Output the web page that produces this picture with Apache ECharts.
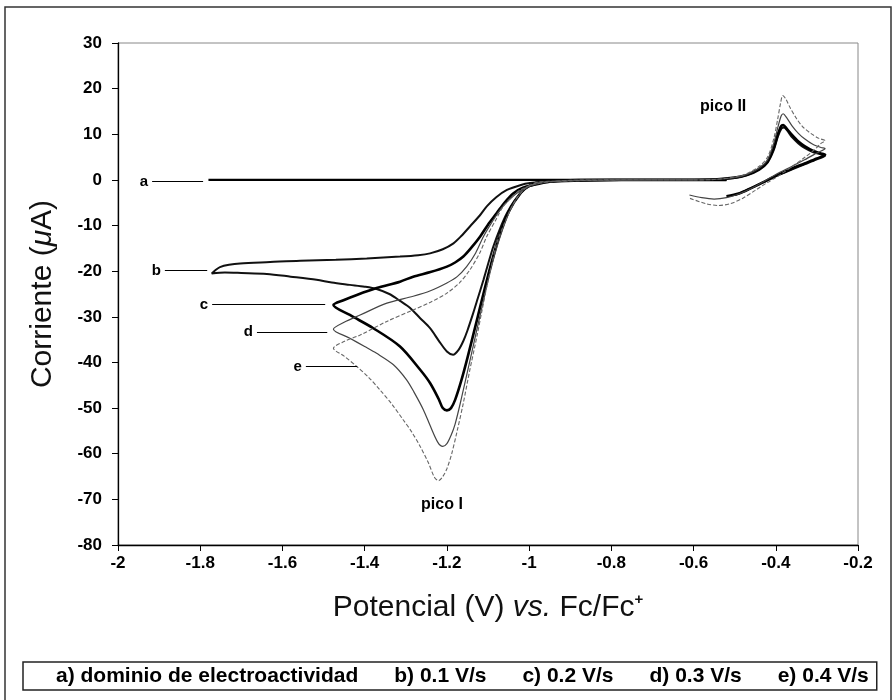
<!DOCTYPE html>
<html>
<head>
<meta charset="utf-8">
<script src="https://cdn.jsdelivr.net/npm/echarts@6/dist/echarts.min.js"></script>
<style>
  html, body { margin: 0; padding: 0; background: #fff; }
  #chart { width: 893px; height: 700px; }
</style>
</head>
<body>
<div id="chart"></div>
<script>
// ---------- DATA ----------
const legendNames = ['a) dominio de electroactividad', 'b) 0.1 V/s', 'c) 0.2 V/s', 'd) 0.3 V/s', 'e) 0.4 V/s'];
const xTicks = [-2, -1.8, -1.6, -1.4, -1.2, -1, -0.8, -0.6, -0.4, -0.2];
const yTicks = [-80, -70, -60, -50, -40, -30, -20, -10, 0, 10, 20, 30];

// a) blank
const E_a = [-1.78, -1.5, -1.2, -1.0, -0.8, -0.6, -0.52];
const I_a = [0, 0, 0, 0, 0, 0, 0.1];

// b) 0.1 V/s
const E_b = [-0.52, -0.7, -0.85, -0.93, -0.97, -1.0, -1.014, -1.035, -1.054, -1.07, -1.087, -1.10, -1.111, -1.125, -1.136, -1.15, -1.16, -1.172, -1.185, -1.20, -1.22, -1.241, -1.265, -1.29, -1.314, -1.34, -1.371, -1.40, -1.436, -1.48, -1.517, -1.58, -1.638, -1.70, -1.74, -1.772,
  -1.762, -1.752, -1.73, -1.703, -1.63, -1.557, -1.47, -1.395, -1.314, -1.27, -1.241, -1.21, -1.184, -1.165, -1.144, -1.12, -1.103, -1.08, -1.054, -1.02, -0.998, -0.95, -0.9, -0.8, -0.6, -0.55, -0.5, -0.47, -0.44, -0.42, -0.405, -0.395, -0.386, -0.38, -0.372, -0.36, -0.345, -0.33, -0.31, -0.29, -0.28,
  -0.30, -0.33, -0.36, -0.40, -0.43, -0.46, -0.49, -0.50];
const I_b = [0, 0, -0.1, -0.3, -0.6, -1.4, -2.2, -4.5, -7.3, -10.5, -14.6, -18.5, -21.9, -26, -29.2, -33, -35.3, -37.3, -38.3, -37.6, -35.2, -32.5, -30.3, -28, -26.5, -25, -23.9, -23.4, -23.0, -22.5, -21.9, -21.2, -20.6, -20.4, -20.3, -20.5,
  -19.7, -19.1, -18.6, -18.3, -18.0, -17.7, -17.5, -17.2, -16.8, -16.5, -16.1, -15.2, -13.9, -12.3, -10.2, -7.8, -5.8, -3.8, -2.2, -1.1, -0.7, -0.3, -0.1, 0, 0, 0.1, 0.4, 1.0, 2.2, 3.8, 6.5, 9.5, 11.3, 11.5, 10.8, 9.3, 8.0, 7.0, 6.1, 5.6, 5.3,
  4.5, 3.4, 2.3, 0.8, -0.5, -1.8, -3.0, -3.3];

// c) 0.2 V/s
const E_c = [-0.52, -0.7, -0.85, -0.93, -0.98, -1.0, -1.02, -1.05, -1.075, -1.10, -1.125, -1.15, -1.165, -1.18, -1.19, -1.20, -1.21, -1.22, -1.241, -1.265, -1.314, -1.379, -1.436, -1.476,
  -1.45, -1.419, -1.371, -1.314, -1.282, -1.24, -1.20, -1.18, -1.16, -1.14, -1.119, -1.10, -1.079, -1.06, -1.038, -1.015, -0.99, -0.95, -0.9, -0.8, -0.6, -0.55, -0.5, -0.47, -0.44, -0.42, -0.405, -0.395, -0.387, -0.382, -0.374, -0.36, -0.345, -0.33, -0.31, -0.29, -0.28,
  -0.30, -0.33, -0.36, -0.40, -0.43, -0.46, -0.49, -0.52];
const I_c = [0, 0, -0.1, -0.3, -0.6, -1.3, -2.8, -7, -13, -21, -30, -39, -44, -48.2, -50, -50.5, -50.0, -48, -44.5, -41.6, -36.5, -32.5, -29.6, -27.4,
  -26.3, -25.2, -23.7, -22.3, -21.2, -20.2, -19.0, -18.1, -16.8, -14.8, -12.4, -9.8, -7.3, -5.0, -2.9, -1.7, -1.1, -0.4, -0.1, 0, 0, 0.1, 0.5, 1.1, 2.4, 4.0, 7, 10, 11.8, 12.0, 11.3, 9.8, 8.4, 7.4, 6.4, 5.8, 5.5,
  4.7, 3.6, 2.5, 0.9, -0.5, -1.8, -3.0, -3.6];

// d) 0.3 V/s
const E_d = [-0.6, -0.7, -0.85, -0.93, -0.975, -0.995, -1.015, -1.04, -1.065, -1.09, -1.115, -1.14, -1.165, -1.18, -1.19, -1.20, -1.21, -1.222, -1.24, -1.257, -1.28, -1.298, -1.33, -1.371, -1.40, -1.436, -1.476,
  -1.45, -1.411, -1.346, -1.282, -1.24, -1.20, -1.175, -1.152, -1.13, -1.111, -1.09, -1.071, -1.05, -1.030, -1.0, -0.96, -0.9, -0.8, -0.6, -0.55, -0.5, -0.47, -0.44, -0.42, -0.405, -0.395, -0.387, -0.382, -0.374, -0.36, -0.345, -0.33, -0.31, -0.29, -0.28,
  -0.30, -0.33, -0.36, -0.40, -0.43, -0.46, -0.49, -0.52, -0.55, -0.58, -0.61];
const I_d = [0, 0, -0.1, -0.3, -0.5, -1.2, -2.3, -5.5, -11, -18.5, -28, -38, -48, -53.5, -56, -57.8, -58.4, -57.5, -54, -50.4, -46.5, -43.8, -40.5, -38.0, -36.5, -34.7, -32.7,
  -31.2, -29.6, -27.0, -25.5, -24.3, -22.6, -21.2, -19.0, -16.0, -12.4, -9.2, -6.6, -4.5, -2.9, -1.4, -0.5, -0.1, 0, 0, 0.1, 0.5, 1.2, 2.6, 4.4, 8, 11.5, 14, 14.5, 13.7, 11.8, 10.2, 9.0, 7.8, 7.1, 6.9,
  5.9, 4.4, 3.0, 1.2, -0.4, -1.9, -3.1, -3.9, -4.2, -3.9, -3.3];

// e) 0.4 V/s
const E_e = [-0.6, -0.7, -0.85, -0.93, -0.973, -0.995, -1.014, -1.03, -1.046, -1.06, -1.079, -1.09, -1.103, -1.115, -1.127, -1.145, -1.16, -1.175, -1.188, -1.20, -1.21, -1.22, -1.23, -1.245, -1.265, -1.285, -1.306, -1.335, -1.363, -1.39, -1.419, -1.45, -1.476,
  -1.45, -1.411, -1.346, -1.282, -1.24, -1.20, -1.17, -1.144, -1.12, -1.103, -1.08, -1.063, -1.04, -1.022, -0.99, -0.95, -0.9, -0.8, -0.6, -0.55, -0.5, -0.47, -0.44, -0.42, -0.405, -0.395, -0.388, -0.383, -0.376, -0.365, -0.35, -0.335, -0.315, -0.295, -0.28,
  -0.29, -0.306, -0.33, -0.372, -0.40, -0.421, -0.45, -0.48, -0.51, -0.54, -0.57, -0.61];
const I_e = [0, 0, -0.1, -0.3, -0.4, -1.0, -2.2, -4, -6.6, -9.5, -13.9, -18.2, -23.4, -28.8, -34.3, -42, -48.9, -55, -59.9, -63.3, -65.0, -65.9, -65.2, -62, -58.4, -55.3, -52.6, -49.0, -46.0, -43.3, -40.9, -38.6, -36.9,
  -35.4, -34.0, -31.0, -28.5, -26.8, -24.8, -22.6, -19.7, -16, -12.4, -8.6, -5.8, -3.6, -2.2, -1.0, -0.4, -0.1, 0, 0, 0.1, 0.6, 1.4, 3.0, 5.0, 9, 13.5, 17, 18.5, 17.8, 15.8, 13.5, 11.7, 10.2, 9.1, 8.6,
  8.0, 6.6, 4.9, 2.2, 0.5, -0.6, -2.3, -4.0, -5.2, -5.6, -5.2, -4.0];

// curve tags with leader lines (data coordinates)
const tagText = ['a', 'b', 'c', 'd', 'e'];
const tagStartE = [-1.917, -1.886, -1.771, -1.662, -1.543];
const tagEndE = [-1.793, -1.783, -1.496, -1.491, -1.418];
const tagI = [-0.4, -19.9, -27.3, -33.4, -40.9];

// peak annotations (data coordinates)
const peakText = ['pico I', 'pico II'];
const peakE = [-1.212, -0.528];
const peakI = [-71.2, 16.0];

// ---------- CHART ----------
const FONT = '"Liberation Sans", Arial, sans-serif';
const zip = (xs, ys) => xs.map((x, i) => [x, ys[i]]);
const curves = [[E_a, I_a], [E_b, I_b], [E_c, I_c], [E_d, I_d], [E_e, I_e]];
const styles = [
  { color: '#000', width: 2.4, type: 'solid' },
  { color: '#111', width: 2.0, type: 'solid' },
  { color: '#000', width: 2.6, type: 'solid' },
  { color: '#444', width: 1.2, type: 'solid' },
  { color: '#666', width: 1.1, type: [4, 2] }
];

const series = curves.map((c, k) => ({
  name: legendNames[k],
  type: 'line',
  data: zip(c[0], c[1]),
  symbol: 'none',
  smooth: 0.3,
  clip: false,
  lineStyle: styles[k],
  itemStyle: { color: styles[k].color },
  emphasis: { disabled: true },
  markLine: {
    silent: true,
    symbol: ['none', 'none'],
    animation: false,
    lineStyle: { color: '#000', width: 1, type: 'solid' },
    label: {
      show: true, position: 'start', formatter: tagText[k], distance: 4,
      color: '#000', fontWeight: 'bold', fontSize: 15, fontFamily: FONT
    },
    emphasis: { disabled: true },
    data: [[{ coord: [tagStartE[k], tagI[k]] }, { coord: [tagEndE[k], tagI[k]] }]]
  }
}));

const chart = echarts.init(document.getElementById('chart'), null, { renderer: 'canvas' });
const baseOption = {
  animation: false,
  backgroundColor: '#fff',
  textStyle: { fontFamily: FONT },
  grid: {
    left: 118, right: 35, top: 43, bottom: 155,
    show: true, borderColor: '#888', borderWidth: 1, backgroundColor: 'transparent'
  },
  legend: {
    data: legendNames,
    left: 23, top: 662,
    icon: 'none',
    itemWidth: 0, itemHeight: 14, itemGap: 31,
    padding: [4, 8, 3, 28],
    borderColor: '#222', borderWidth: 1.5,
    selectedMode: false,
    textStyle: { color: '#000', fontWeight: 'bold', fontSize: 21, fontFamily: FONT }
  },
  xAxis: {
    type: 'value',
    min: xTicks[0], max: xTicks[xTicks.length - 1], interval: 0.2,
    axisLine: { onZero: false, lineStyle: { color: '#000', width: 1.3 } },
    axisTick: { show: true, inside: false, length: 6, lineStyle: { color: '#000' } },
    splitLine: { show: false },
    axisLabel: {
      margin: 10, color: '#000', fontWeight: 'bold', fontSize: 17, fontFamily: FONT,
      formatter: v => String(Math.round(v * 10) / 10)
    },
    name: 'Potencial (V) {it|vs.} Fc/Fc{sup|+}',
    nameLocation: 'middle',
    nameGap: 47,
    nameTextStyle: {
      fontSize: 30, color: '#111', fontFamily: FONT,
      rich: {
        it: { fontSize: 30, fontStyle: 'italic', color: '#111', fontFamily: FONT },
        sup: { fontSize: 15, fontWeight: 'bold', color: '#111', fontFamily: FONT, verticalAlign: 'top', padding: [0, 0, 16, 0] }
      }
    }
  },
  yAxis: {
    type: 'value',
    min: yTicks[0], max: yTicks[yTicks.length - 1], interval: 10,
    axisLine: { onZero: false, lineStyle: { color: '#000', width: 1.3 } },
    axisTick: { show: true, inside: false, length: 6, lineStyle: { color: '#000' } },
    splitLine: { show: false },
    axisLabel: { margin: 16, color: '#000', fontWeight: 'bold', fontSize: 17, fontFamily: FONT },
    name: 'Corriente ({mu|μ}A)',
    nameLocation: 'middle',
    nameGap: 60,
    nameTextStyle: {
      fontSize: 30, color: '#111', fontFamily: FONT,
      rich: { mu: { fontSize: 30, fontStyle: 'italic', color: '#111', fontFamily: FONT } }
    }
  },
  series: series
};
chart.setOption(baseOption);

// frame + peak annotations placed through the chart's own coordinate conversion
const graphics = [{
  type: 'rect',
  silent: true,
  shape: { x: 5, y: 7, width: 886, height: 720 },
  style: { fill: 'none', stroke: '#333', lineWidth: 1.5 },
  z: 100
}];
peakText.forEach((t, i) => {
  const p = chart.convertToPixel({ gridIndex: 0 }, [peakE[i], peakI[i]]);
  graphics.push({
    type: 'text',
    silent: true,
    x: p[0], y: p[1],
    style: {
      text: t, fill: '#000', font: 'bold 16px ' + FONT,
      align: 'center', verticalAlign: 'middle'
    },
    z: 100
  });
});
chart.setOption({ graphic: graphics });
</script>
</body>
</html>
